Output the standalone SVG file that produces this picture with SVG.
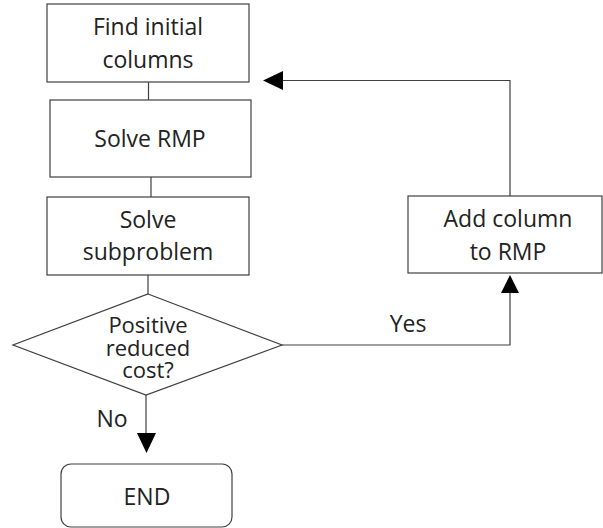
<svg xmlns="http://www.w3.org/2000/svg" width="603" height="528" viewBox="0 0 603 528">
<style>
.box{fill:#fff;stroke:#404040;stroke-width:1.2}
.ln{fill:none;stroke:#404040;stroke-width:1.2}
.t{font-family:"Open Sans","Noto Sans",sans-serif;font-size:23px;fill:#222;text-anchor:middle}
.d{font-size:22px}
</style>
<rect width="603" height="528" fill="#fff"/>
<g id="connectors">
<line class="ln" x1="148.5" y1="82" x2="148.5" y2="100"/>
<line class="ln" x1="151" y1="177" x2="151" y2="197"/>
<line class="ln" x1="148" y1="275" x2="148" y2="294"/>
<path class="ln" d="M146,395 L146,433"/>
<path d="M137,433 L156,433 L146.5,453 z" fill="#000"/>
<path class="ln" d="M282,345 L510,345 L510,293"/>
<path d="M501,293 L519,293 L510,275 z" fill="#000"/>
<path class="ln" d="M510,196 L510,80.5 L283,80.5"/>
<path d="M283,71 L283,90 L263,80.5 z" fill="#000"/>
<text class="t" x="112" y="427">No</text>
<text class="t" x="408" y="332">Yes</text>
</g>
<g id="n1">
<rect class="box" x="47" y="4" width="202" height="78"/>
<text class="t" x="148" y="35">Find initial</text>
<text class="t" x="148" y="68">columns</text>
</g>
<g id="n2">
<rect class="box" x="50" y="100" width="201" height="77"/>
<text class="t" x="150" y="147">Solve RMP</text>
</g>
<g id="n3">
<rect class="box" x="47" y="197" width="202" height="78"/>
<text class="t" x="148" y="228">Solve</text>
<text class="t" x="148" y="260">subproblem</text>
</g>
<g id="n4">
<polygon class="box" points="148,294 282,345 146,395 13,345"/>
<text class="t d" x="148" y="333">Positive</text>
<text class="t d" x="148" y="356">reduced</text>
<text class="t d" x="148" y="378">cost?</text>
</g>
<g id="n5">
<rect class="box" x="408" y="196" width="194" height="77"/>
<text class="t" x="508" y="227">Add column</text>
<text class="t" x="508" y="260">to RMP</text>
</g>
<g id="n6">
<rect class="box" x="61" y="464" width="171" height="63" rx="10" ry="10"/>
<text class="t" x="147" y="505">END</text>
</g>
</svg>
